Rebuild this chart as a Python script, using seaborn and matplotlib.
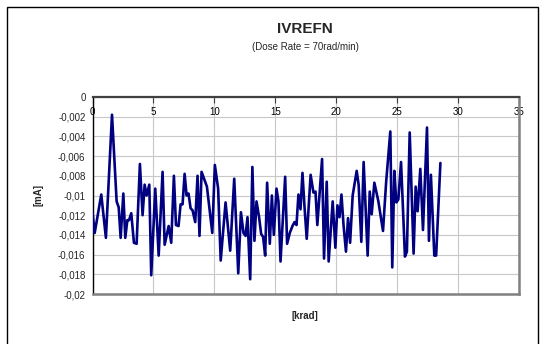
import matplotlib
matplotlib.use("Agg")
import matplotlib.pyplot as plt
import matplotlib.patches as mpatches
import seaborn as sns
import pandas as pd
from matplotlib.ticker import FuncFormatter

# ---- data ----
dose_krad = [0.0, 0.18, 0.72, 1.1, 1.6, 1.98, 2.15, 2.31, 2.53, 2.69, 2.86, 3.0, 3.18, 3.4, 3.62,
             3.89, 4.11, 4.28, 4.44, 4.66, 4.82, 5.15, 5.43, 5.75, 5.92, 6.25, 6.46, 6.68, 6.85,
             7.06, 7.23, 7.39, 7.56, 7.72, 7.88, 8.05, 8.21, 8.43, 8.62, 8.78, 8.95, 9.39, 9.83,
             10.04, 10.31, 10.52, 10.92, 11.3, 11.63, 11.96, 12.18, 12.39, 12.56, 12.72, 12.94,
             13.12, 13.29, 13.46, 13.67, 13.84, 14.0, 14.17, 14.33, 14.55, 14.72, 14.88, 15.1,
             15.26, 15.43, 15.81, 15.97, 16.19, 16.41, 16.58, 16.74, 16.9, 17.07, 17.23, 17.39,
             17.58, 17.9, 18.13, 18.3, 18.45, 18.84, 19.0, 19.22, 19.38, 19.71, 19.93, 20.1,
             20.27, 20.43, 20.6, 20.8, 20.97, 21.14, 21.35, 21.68, 21.84, 22.06, 22.25, 22.58,
             22.75, 22.91, 23.13, 23.46, 23.84, 24.1, 24.44, 24.6, 24.77, 24.93, 25.1, 25.32,
             25.64, 25.8, 26.03, 26.35, 26.52, 26.68, 26.9, 27.12, 27.45, 27.61, 27.77, 28.05,
             28.2, 28.55]
ivrefn_mA = [-0.0117, -0.0138, -0.0099, -0.0143, -0.0018, -0.0106, -0.0112, -0.0143, -0.0098,
             -0.0143, -0.0125, -0.0125, -0.0118, -0.0148, -0.0149, -0.0068, -0.0120, -0.0089,
             -0.0100, -0.0089, -0.0181, -0.0093, -0.0161, -0.0076, -0.0150, -0.0131, -0.0148,
             -0.0080, -0.0130, -0.0131, -0.0109, -0.0109, -0.0078, -0.0100, -0.0098, -0.0113,
             -0.0115, -0.0127, -0.0080, -0.0141, -0.0076, -0.0091, -0.0138, -0.0069, -0.0093,
             -0.0166, -0.0107, -0.0156, -0.0083, -0.0179, -0.0117, -0.0138, -0.0141, -0.0122,
             -0.0185, -0.0071, -0.0146, -0.0106, -0.0122, -0.0139, -0.0142, -0.0161, -0.0087,
             -0.0149, -0.0100, -0.0140, -0.0093, -0.0106, -0.0167, -0.0081, -0.0149, -0.0138,
             -0.0131, -0.0127, -0.0130, -0.0099, -0.0114, -0.0077, -0.0110, -0.0144, -0.0079,
             -0.0097, -0.0096, -0.0130, -0.0063, -0.0164, -0.0086, -0.0167, -0.0106, -0.0153,
             -0.0110, -0.0122, -0.0099, -0.0130, -0.0157, -0.0123, -0.0148, -0.0100, -0.0075,
             -0.0089, -0.0147, -0.0066, -0.0161, -0.0096, -0.0119, -0.0087, -0.0106, -0.0136,
             -0.0086, -0.0035, -0.0173, -0.0075, -0.0107, -0.0104, -0.0066, -0.0162, -0.0157,
             -0.0036, -0.0159, -0.0091, -0.0116, -0.0073, -0.0135, -0.0031, -0.0146, -0.0079,
             -0.0161, -0.0161, -0.0067]
x_ticks = [0, 5, 10, 15, 20, 25, 30, 35]
y_ticks = [0, -0.002, -0.004, -0.006, -0.008, -0.01, -0.012, -0.014, -0.016, -0.018, -0.02]
title = "IVREFN"
subtitle = "(Dose Rate = 70rad/min)"
x_label = "[krad]"
y_label = "[mA]"

df = pd.DataFrame({"krad": dose_krad, "mA": ivrefn_mA})

sns.set_style("white")
plt.rcParams["font.family"] = ["Liberation Sans", "DejaVu Sans"]

W, H = 541, 344
fig = plt.figure(figsize=(W / 100, H / 100), dpi=100)
ax = fig.add_axes([92.5 / W, 1 - 294 / H, (519 - 92.5) / W, (294 - 97) / H])

sns.lineplot(data=df, x="krad", y="mA", ax=ax, color="#000080", linewidth=1.9,
             sort=False, estimator=None, zorder=3)

ax.set_xlim(0, 35)
ax.set_ylim(-0.02, 0)
ax.set_xticks(x_ticks)
ax.set_yticks(y_ticks)
ax.yaxis.set_major_formatter(FuncFormatter(lambda v, p: ("%g" % v).replace(".", ",") if abs(v) > 1e-12 else "0"))

# x axis sits at y = 0 (top), labels just below it
ax.xaxis.tick_top()
ax.tick_params(axis="x", direction="in", length=4, width=0.8, color="#404040",
               labelsize=7, pad=-14.5, labelcolor="black")
ax.tick_params(axis="y", direction="out", length=3, width=0.8, color="black",
               labelsize=7, pad=2)

ax.grid(True, color="#c8c8c8", linewidth=0.8, zorder=0)
ax.set_axisbelow(True)

ax.spines["top"].set_color("#404040")
ax.spines["top"].set_linewidth(1.6)
ax.spines["left"].set_color("black")
ax.spines["left"].set_linewidth(1.0)
for s in ["right", "bottom"]:
    ax.spines[s].set_color("#808080")
    ax.spines[s].set_linewidth(1.8)

ax.set_xlabel("")
ax.set_ylabel("")
fig.text(305 / W, 1 - 316 / H, x_label, ha="center", va="center", fontsize=7, fontweight="bold")
fig.text(38 / W, 1 - 195 / H, y_label, ha="center", va="center", rotation=90, fontsize=7,
         fontweight="bold")
fig.text(305 / W, 1 - 29 / H, title, ha="center", va="center", fontsize=11, fontweight="bold")
fig.text(305 / W, 1 - 47 / H, subtitle, ha="center", va="center", fontsize=7)

# chart area border
fig.patches.append(mpatches.Rectangle((7 / W, -0.05), (538 - 7) / W, 1.05 - 7 / H,
                                      transform=fig.transFigure, fill=False,
                                      edgecolor="black", linewidth=1.0))

fig.savefig("out.png", dpi=100)
